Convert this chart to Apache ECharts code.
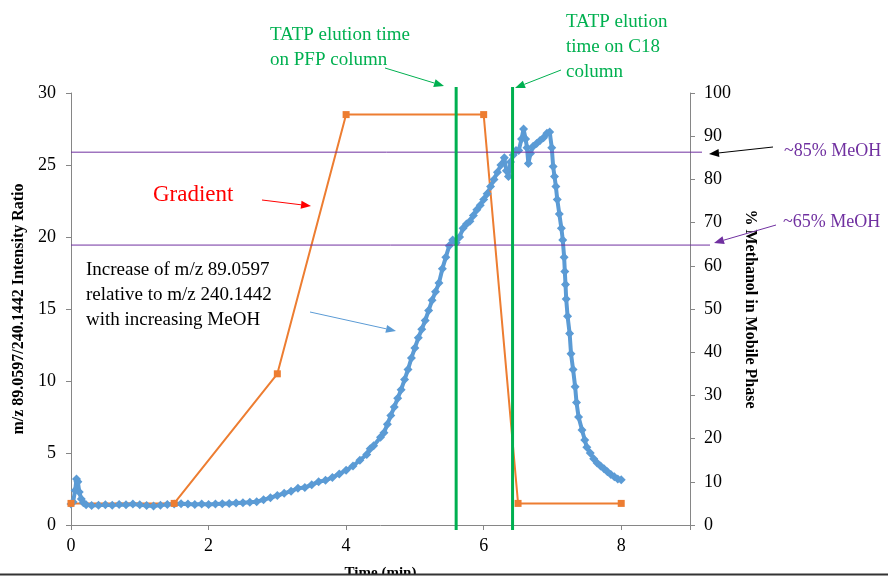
<!DOCTYPE html>
<html>
<head>
<meta charset="utf-8">
<script src="https://cdn.jsdelivr.net/npm/echarts@6/dist/echarts.min.js"></script>
<style>
  html, body { margin: 0; padding: 0; background: #fff; }
  #chart { width: 888px; height: 577px; }
</style>
</head>
<body>
<div id="chart"></div>
<script>
// 时间 (min) 与强度比
var ratioTime = [0.00, 0.03, 0.06, 0.08, 0.10, 0.12, 0.15, 0.18, 0.22, 0.30, 0.40, 0.50, 0.60, 0.70, 0.80, 0.90,
    1.00, 1.10, 1.20, 1.30, 1.40, 1.50, 1.60, 1.70, 1.80, 1.90, 2.00, 2.10, 2.20, 2.30, 2.40, 2.50, 2.60, 2.70,
    2.80, 2.90, 3.00, 3.10, 3.20, 3.30, 3.40, 3.50, 3.60, 3.70, 3.80, 3.90, 4.00, 4.10, 4.20, 4.30, 4.35, 4.40,
    4.50, 4.55, 4.60, 4.65, 4.70, 4.75, 4.80, 4.85, 4.90, 4.95, 5.00, 5.05, 5.10, 5.15, 5.20, 5.25, 5.30, 5.35,
    5.40, 5.45, 5.50, 5.55, 5.60, 5.65, 5.70, 5.75, 5.80, 5.85, 5.90, 5.95, 6.00, 6.05, 6.10, 6.15, 6.20, 6.25,
    6.30, 6.33, 6.36, 6.39, 6.43, 6.47, 6.51, 6.55, 6.58, 6.61, 6.63, 6.65, 6.68, 6.72, 6.77, 6.82, 6.87, 6.92,
    6.96, 6.99, 7.01, 7.03, 7.05, 7.07, 7.10, 7.13, 7.15, 7.17, 7.18, 7.19, 7.20, 7.22, 7.25, 7.27, 7.30, 7.33,
    7.35, 7.38, 7.43, 7.47, 7.50, 7.55, 7.60, 7.65, 7.70, 7.75, 7.80, 7.85, 7.90, 7.95, 8.00];
var ratioValue = [1.45, 1.6, 2.4, 3.2, 3.0, 2.3, 1.8, 1.55, 1.4, 1.35, 1.38, 1.4, 1.38, 1.42, 1.4, 1.45,
    1.4, 1.35, 1.32, 1.38, 1.42, 1.45, 1.48, 1.45, 1.42, 1.45, 1.42, 1.45, 1.48, 1.5, 1.52, 1.55, 1.58, 1.62,
    1.75, 1.9, 2.05, 2.2, 2.35, 2.55, 2.6, 2.8, 3.0, 3.1, 3.3, 3.55, 3.8, 4.1, 4.5, 4.9, 5.3, 5.5,
    6.1, 6.4, 7.0, 7.6, 8.2, 8.8, 9.4, 10.1, 10.8, 11.6, 12.3, 13.0, 13.6, 14.2, 14.9, 15.6, 16.2, 16.8,
    17.8, 18.6, 19.4, 19.8, 19.6, 20.0, 20.6, 20.9, 21.1, 21.5, 21.9, 22.2, 22.6, 23.0, 23.5, 24.0, 24.5, 25.0,
    25.5, 24.6, 24.2, 25.2, 25.7, 26.0, 26.0, 26.8, 27.5, 26.8, 26.2, 25.1, 25.8, 26.3, 26.5, 26.7, 26.9, 27.2,
    27.3, 26.2, 24.9, 24.2, 23.5, 22.6, 21.6, 20.6, 19.8, 18.6, 17.6, 16.7, 15.7, 14.5, 13.3, 11.9, 10.8, 9.6,
    8.5, 7.5, 6.6, 5.9, 5.4, 5.0, 4.6, 4.3, 4.1, 3.9, 3.7, 3.5, 3.35, 3.2, 3.15];

// 梯度 (% 甲醇)
var gradientTime = [0, 1.5, 3, 4, 6, 6.5, 8];
var gradientMeoh = [5, 5, 35, 95, 95, 5, 5];

// 标注
var elutionTimes = [5.6, 6.42];
var meohLevels = [86.3, 64.8];

var font = '"Liberation Serif", "Times New Roman", serif';
var blue = '#5b9bd5', orange = '#ed7d31', green = '#00b050', purple = '#7030a0';

var ratioData = ratioTime.map(function (t, i) {
    return [t, ratioValue[i]];
});
var gradientData = gradientTime.map(function (t, i) {
    return [t, gradientMeoh[i]];
});

var myChart = echarts.init(document.getElementById('chart'));

var option = {
    animation: false,
    grid: {left: 71, right: 198, top: 93, bottom: 52, containLabel: false, outerBoundsMode: 'none'},
    xAxis: {
        type: 'value', min: 0, max: 9, interval: 2,
        name: 'Time (min)', nameLocation: 'middle', nameGap: 41,
        nameTextStyle: {fontFamily: font, fontSize: 15, fontWeight: 'bold', color: '#000'},
        axisLine: {lineStyle: {color: '#868686', width: 1}},
        axisTick: {show: true, length: 5, lineStyle: {color: '#868686'}},
        axisLabel: {
            fontFamily: font, fontSize: 18, color: '#000', margin: 12,
            formatter: function (v) { return v === 9 ? '' : v; }
        },
        splitLine: {show: false}
    },
    yAxis: [{
        type: 'value', min: 0, max: 30, interval: 5,
        name: 'm/z 89.0597/240.1442 Intensity Ratio', nameLocation: 'middle', nameGap: 35,
        nameTextStyle: {fontFamily: font, fontSize: 16, fontWeight: 'bold', color: '#000'},
        axisLine: {show: true, lineStyle: {color: '#868686'}},
        axisTick: {show: true, length: 5, lineStyle: {color: '#868686'}},
        axisLabel: {fontFamily: font, fontSize: 18, color: '#000', margin: 15},
        splitLine: {show: false}
    }, {
        type: 'value', min: 0, max: 100, interval: 10, position: 'right',
        name: '% Methanol in Mobile Phase', nameLocation: 'middle', nameGap: 45, nameRotate: -90,
        nameTextStyle: {fontFamily: font, fontSize: 16, fontWeight: 'bold', color: '#000'},
        axisLine: {show: true, lineStyle: {color: '#868686'}},
        axisTick: {show: true, length: 5, lineStyle: {color: '#868686'}},
        axisLabel: {fontFamily: font, fontSize: 18, color: '#000', margin: 14},
        splitLine: {show: false}
    }],
    series: [{
        name: 'ratio',
        type: 'line',
        yAxisIndex: 0,
        data: ratioData,
        symbol: 'diamond',
        symbolSize: 9,
        itemStyle: {color: blue},
        lineStyle: {color: blue, width: 4}
    }, {
        name: 'gradient',
        type: 'line',
        yAxisIndex: 1,
        data: gradientData,
        symbol: 'rect',
        symbolSize: 7,
        itemStyle: {color: orange},
        lineStyle: {color: orange, width: 2}
    }]
};
myChart.setOption(option);

// 箭头
function arrow(x1, y1, x2, y2, color) {
    var a = Math.atan2(y2 - y1, x2 - x1), L = 10, W = 4;
    var bx = x2 - L * Math.cos(a), by = y2 - L * Math.sin(a);
    return [{
        type: 'line', z: 50,
        shape: {x1: x1, y1: y1, x2: bx, y2: by},
        style: {stroke: color, lineWidth: 1}
    }, {
        type: 'polygon', z: 50,
        shape: {points: [[x2, y2],
            [bx + W * Math.sin(a), by - W * Math.cos(a)],
            [bx - W * Math.sin(a), by + W * Math.cos(a)]]},
        style: {fill: color}
    }];
}
function label(x, y, lines, color, size) {
    return {
        type: 'text', z: 50, x: x, y: y,
        style: {text: lines.join('\n'), fill: color, font: size + 'px ' + font, lineHeight: Math.round(size * 1.32)}
    };
}

var g = [];
var left = myChart.convertToPixel({xAxisIndex: 0}, 0);
var right = myChart.convertToPixel({xAxisIndex: 0}, 9);
meohLevels.forEach(function (v, i) {
    var y = myChart.convertToPixel({yAxisIndex: 1}, v);
    g.push({type: 'line', z: 40, shape: {x1: left, y1: y, x2: right + 12 + i * 8, y2: y},
        style: {stroke: purple, lineWidth: 1}});
});
elutionTimes.forEach(function (t) {
    var x = myChart.convertToPixel({xAxisIndex: 0}, t);
    g.push({type: 'line', z: 45, shape: {x1: x, y1: 87, x2: x, y2: 530},
        style: {stroke: green, lineWidth: 3}});
});

g.push(label(270, 23, ['TATP elution time', 'on PFP column'], green, 19));
g.push(label(566, 10, ['TATP elution', 'time on C18', 'column'], green, 19));
g.push(label(153, 180, ['Gradient'], 'red', 23));
g.push(label(86, 258, ['Increase of m/z 89.0597', 'relative to m/z 240.1442', 'with increasing MeOH'], '#000', 19));
g.push(label(784, 139, ['~85% MeOH'], purple, 18));
g.push(label(783, 210, ['~65% MeOH'], purple, 18));

g = g.concat(arrow(385, 68, 444, 86, green));
g = g.concat(arrow(561, 70, 515, 88, green));
g = g.concat(arrow(262, 200, 311, 206, 'red'));
g = g.concat(arrow(310, 312, 396, 331, blue));
g = g.concat(arrow(773, 147, 709, 154, '#000'));
g = g.concat(arrow(776, 225, 714, 243, purple));

// 底部黑线
g.push({type: 'rect', z: 60, shape: {x: 0, y: 575, width: 888, height: 2}, style: {fill: '#fff'}});
g.push({type: 'rect', z: 61, shape: {x: 0, y: 573.5, width: 888, height: 2}, style: {fill: '#333'}});

myChart.setOption({graphic: g});
</script>
</body>
</html>
